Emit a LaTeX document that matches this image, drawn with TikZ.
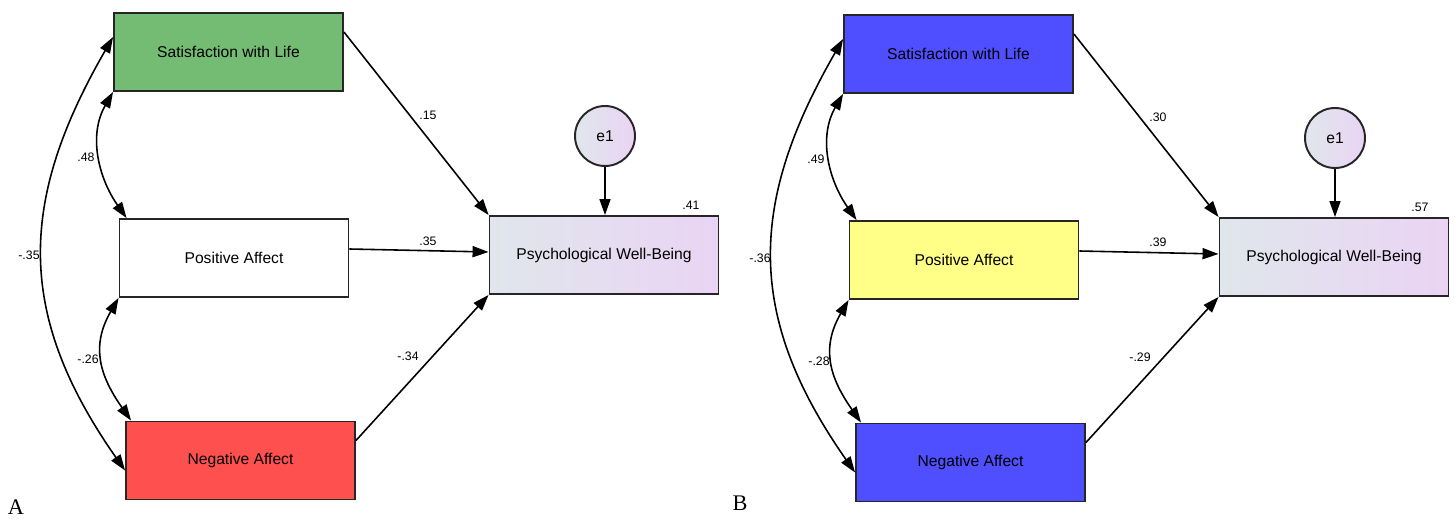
\documentclass[tikz,border=0pt]{standalone}
\usepackage{fontspec}
\setmainfont{Liberation Serif}
\setsansfont{Liberation Sans}
\usepackage{tikz}
\usetikzlibrary{arrows.meta}
\usetikzlibrary{calc}
\definecolor{swlgreen}{HTML}{74BC74}
\definecolor{nared}{HTML}{FF5050}
\definecolor{amosblue}{HTML}{4F4FFF}
\definecolor{payellow}{HTML}{FFFF88}
\definecolor{pwbleft}{HTML}{E0E6EC}
\definecolor{pwbright}{HTML}{EAD4F4}
\tikzset{
  % style for the observed variables
  varbox/.style={draw=black!85, line width=1.1pt,
    minimum width=4.58cm, minimum height=1.56cm,
    font=\sffamily\fontsize{8.9}{10}\selectfont},
  % style for the error term
  errcirc/.style={circle, draw=black!85, line width=1.1pt,
    minimum size=1.2cm, inner sep=0pt,
    left color=pwbleft, right color=pwbright,
    font=\sffamily\fontsize{8.9}{10}\selectfont},
  % regression paths
  path arrow/.style={line width=0.9pt,
    -{Triangle[length=3.2mm,width=2.2mm]}},
  % correlations, heads on both ends
  cov arrow/.style={line width=0.9pt,
    {Triangle[length=3.2mm,width=2.2mm]}-{Triangle[length=3.2mm,width=2.2mm]}},
  % small numbers on the paths
  coef/.style={font=\sffamily\fontsize{7}{8}\selectfont, inner sep=0pt},
  % panel letter
  panel/.style={font=\fontsize{12.7}{14}\selectfont, inner sep=0pt},
}

\begin{document}
\begin{tikzpicture}[x=0.02cm,y=0.02cm]
    \useasboundingbox (0,0) rectangle (1455,518);
    % panel A
    \begin{scope}
    \node[varbox,fill=swlgreen] (swlA) at (228.5,466) {Satisfaction with Life};
    \node[varbox,fill=white] (paA) at (234,260) {Positive Affect};
    \node[varbox,fill=nared] (naA) at (240.5,57.5) {Negative Affect};
    \node[varbox,left color=pwbleft,right color=pwbright] (pwbA) at (604,263) {Psychological Well-Being};
    \node[errcirc] (e1A) at (605,382) {e1};

    \draw[path arrow] ($(swlA.east)+(0,20)$) -- (pwbA.north west);
    \draw[path arrow] ($(paA.east)+(0,9)$) -- ($(pwbA.west)+(0,3)$);
    \draw[path arrow] ($(naA.east)+(0,20)$) -- (pwbA.south west);
    \draw[path arrow] (e1A) -- (e1A |- pwbA.north);

    \draw[cov arrow] (swlA.south west) to[out=240,in=125] ($(paA.north west)+(8,0)$);
    \draw[cov arrow] (paA.south west) to[out=240,in=125,looseness=1.15] ($(naA.north west)+(6,0)$);
    \draw[cov arrow] ($(swlA.west)+(0,15)$) to[out=240,in=125,looseness=1.12] ($(naA.west)+(0,-10)$);

    \node[coef] (bSwlA) at (428,403) {.15};
    \node[coef] (bPaA) at (428,277) {.35};
    \node[coef] (bNaA) at (408,162) {-.34};
    \node[coef] (rsqA) at (691,313) {.41};
    \node[coef] (rSwlPaA) at (86,361) {.48};
    \node[coef] (rPaNaA) at (88,159) {-.26};
    \node[coef] (rSwlNaA) at (29,263) {-.35};
    \end{scope}
    \node[panel] (tagA) at (16,11) {A};

    % panel B
    \begin{scope}[shift={(730,-2)}]
    \node[varbox,fill=amosblue] (swlB) at (228.5,466) {Satisfaction with Life};
    \node[varbox,fill=payellow] (paB) at (234,260) {Positive Affect};
    \node[varbox,fill=amosblue] (naB) at (240.5,57.5) {Negative Affect};
    \node[varbox,left color=pwbleft,right color=pwbright] (pwbB) at (604,263) {Psychological Well-Being};
    \node[errcirc] (e1B) at (605,382) {e1};

    \draw[path arrow] ($(swlB.east)+(0,20)$) -- (pwbB.north west);
    \draw[path arrow] ($(paB.east)+(0,9)$) -- ($(pwbB.west)+(0,3)$);
    \draw[path arrow] ($(naB.east)+(0,20)$) -- (pwbB.south west);
    \draw[path arrow] (e1B) -- (e1B |- pwbB.north);

    \draw[cov arrow] (swlB.south west) to[out=240,in=125] ($(paB.north west)+(8,0)$);
    \draw[cov arrow] (paB.south west) to[out=240,in=125,looseness=1.15] ($(naB.north west)+(6,0)$);
    \draw[cov arrow] ($(swlB.west)+(0,15)$) to[out=240,in=125,looseness=1.12] ($(naB.west)+(0,-10)$);

    \node[coef] (bSwlB) at (428,403) {.30};
    \node[coef] (bPaB) at (428,278) {.39};
    \node[coef] (bNaB) at (410,163) {-.29};
    \node[coef] (rsqB) at (690,313) {.57};
    \node[coef] (rSwlPaB) at (86,361) {.49};
    \node[coef] (rPaNaB) at (89,159) {-.28};
    \node[coef] (rSwlNaB) at (30,262) {-.36};
    \end{scope}
    \node[panel] (tagB) at (740,15) {B};
\end{tikzpicture}
\end{document}
